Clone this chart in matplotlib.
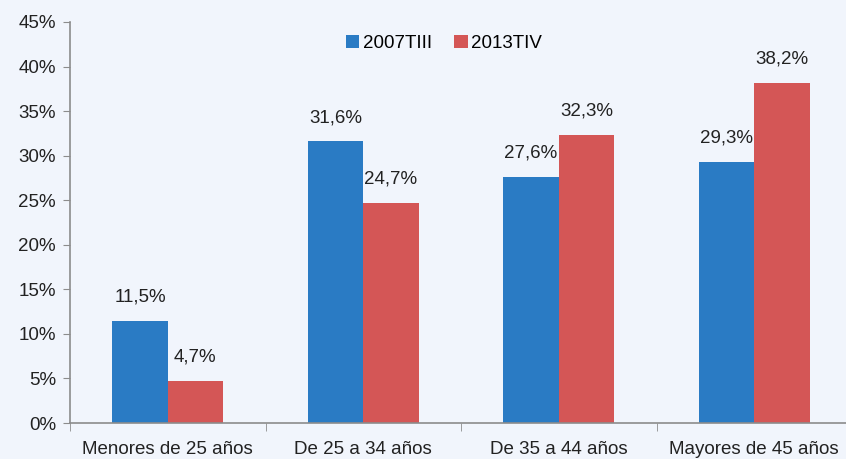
import matplotlib
matplotlib.use("Agg")
import matplotlib.pyplot as plt
import numpy as np

categories = ["Menores de 25 años", "De 25 a 34 años", "De 35 a 44 años", "Mayores de 45 años"]
series_names = ["2007TIII", "2013TIV"]
v2007 = [11.5, 31.6, 27.6, 29.3]
v2013 = [4.7, 24.7, 32.3, 38.2]
yticks = [0, 5, 10, 15, 20, 25, 30, 35, 40, 45]

bg = "#F1F5FC"
blue = "#2A7BC4"
red = "#D45656"
axc = "#8C8C8C"
fs = 13.5

plt.rcParams['font.family'] = ['Liberation Sans', 'DejaVu Sans']

fig = plt.figure(figsize=(8.46, 4.59), dpi=100, facecolor=bg)
ax = fig.add_axes([70/846, 36/459, 782/846, 401/459])
ax.set_facecolor(bg)

x = np.arange(len(categories))
w = 0.283
b1 = ax.bar(x - w/2, v2007, w, color=blue, label=series_names[0])
b2 = ax.bar(x + w/2, v2013, w, color=red, label=series_names[1])

for bars, vals in ((b1, v2007), (b2, v2013)):
    for r, v in zip(bars, vals):
        ax.annotate(f"{v:.1f}%".replace(".", ","), (r.get_x() + r.get_width()/2, v),
                    xytext=(0, 11), textcoords="offset points", ha="center", va="bottom",
                    fontsize=fs, color="#222222")

ax.set_xlim(-0.5, 3.5)
ax.set_ylim(0, 45)
ax.set_yticks(yticks)
ax.set_yticklabels([f"{t}%" for t in yticks], fontsize=fs, color="#222222")
ax.set_xticks(x)
ax.set_xticklabels(categories, fontsize=fs, color="#222222")
ax.set_xticks(np.arange(-0.5, 4.0, 1.0), minor=True)
ax.tick_params(axis="x", which="major", length=0, pad=13)
ax.tick_params(axis="x", which="minor", length=6, color=axc, direction="out")
ax.tick_params(axis="y", length=5, color=axc, direction="out", pad=5)

for s in ("top", "right"):
    ax.spines[s].set_visible(False)
for s in ("left", "bottom"):
    ax.spines[s].set_color(axc)
    ax.spines[s].set_linewidth(1.2)

leg = ax.legend(loc="upper center", bbox_to_anchor=(0.5 - 17/782, 1.01), ncol=2, frameon=False,
                fontsize=fs, handlelength=0.7, handleheight=0.7, handletextpad=0.2,
                columnspacing=1.2)

fig.savefig("out.png", dpi=100, facecolor=bg)
